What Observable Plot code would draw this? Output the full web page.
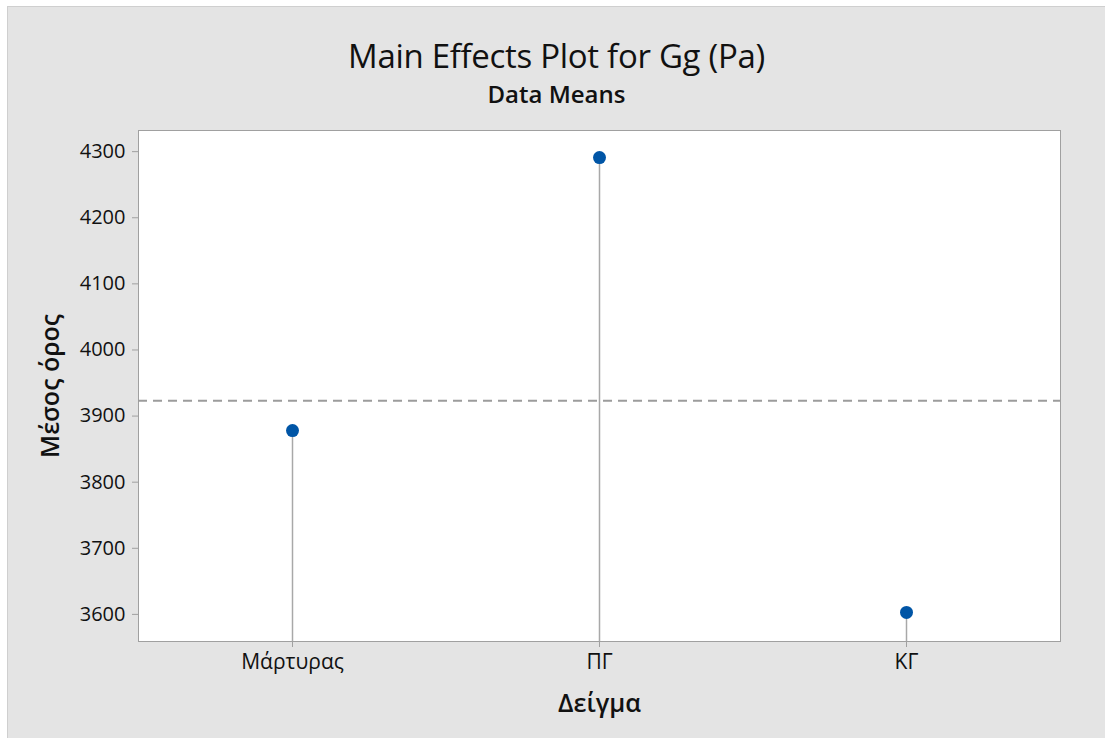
<!DOCTYPE html>
<html>
<head>
<meta charset="utf-8">
<script src="https://cdn.jsdelivr.net/npm/d3@7"></script>
<script src="https://cdn.jsdelivr.net/npm/@observablehq/plot@0.6"></script>
<style>
  html, body { margin: 0; padding: 0; background: #ffffff; }
  #wrap {
    position: absolute; left: 7px; top: 6px; width: 1098px; height: 732px;
    background: #e4e4e4; border-top: 1px solid #cfcfcf; border-left: 1px solid #cfcfcf;
    box-sizing: border-box; overflow: hidden;
    font-family: "Open Sans", "Noto Sans", sans-serif; color: #111;
  }
  #titles { position: relative; height: 103px; }
  #title {
    position: absolute; left: 0; right: 0; top: 32px; text-align: center;
    font-size: 33px; line-height: 1; font-weight: 500; letter-spacing: -0.3px;
  }
  #subtitle {
    position: absolute; left: 0; right: 0; top: 75px; text-align: center;
    font-size: 24px; line-height: 1; font-weight: 600;
  }
  #chart svg { display: block; overflow: visible; }
  #chart g[aria-label="x-axis tick"] path, #chart g[aria-label="y-axis tick"] path { stroke: #a0a0a0; }
  #chart g[aria-label="x-axis tick label"] text { font-size: 21px; font-weight: 500; }
  #chart g[aria-label="y-axis tick label"] text { font-size: 20px; font-weight: 500; }
  #chart g[aria-label="x-axis label"] text, #chart g[aria-label="y-axis label"] text { font-size: 25px; font-weight: 600; }
</style>
</head>
<body>
<div id="wrap">
  <div id="titles">
    <div id="title">Main Effects Plot for Gg (Pa)</div>
    <div id="subtitle">Data Means</div>
  </div>
  <div id="chart"></div>
</div>
<script>
const categories = ["Μάρτυρας", "ΠΓ", "ΚΓ"];
const means = [3878, 4291, 3603];
const grandMean = 3923;
const yTicks = [3600, 3700, 3800, 3900, 4000, 4100, 4200, 4300];
const yDomain = [3559, 4332];
const xLabel = "Δείγμα";
const yLabel = "Μέσος όρος";

const data = categories.map((c, i) => ({cat: c, mean: means[i]}));

const chart = Plot.plot({
  width: 1096,
  height: 628,
  marginLeft: 130,
  marginRight: 44,
  marginTop: 20,
  marginBottom: 97,
  style: {background: "transparent", fontFamily: "'Open Sans', 'Noto Sans', sans-serif", fontSize: "19px", color: "#111"},
  x: {type: "point", domain: categories, padding: 0.5, label: xLabel, labelArrow: "none", labelAnchor: "center", labelOffset: 70, tickSize: 6, tickPadding: 7},
  y: {domain: yDomain, ticks: yTicks, tickFormat: d => String(d), label: yLabel, labelArrow: "none", labelAnchor: "center", labelOffset: 97, tickSize: 6, tickPadding: 7},
  marks: [
    Plot.frame({fill: "white", stroke: "#a0a0a0"}),
    Plot.ruleY([grandMean], {stroke: "#9c9c9c", strokeWidth: 2, strokeDasharray: "9,6"}),
    Plot.ruleX(data, {x: "cat", y1: yDomain[0], y2: "mean", stroke: "#a8a8a8", strokeWidth: 1.5}),
    Plot.dot(data, {x: "cat", y: "mean", r: 6.5, fill: "#0055a6", stroke: "none"})
  ]
});
document.getElementById("chart").appendChild(chart);
</script>
</body>
</html>
